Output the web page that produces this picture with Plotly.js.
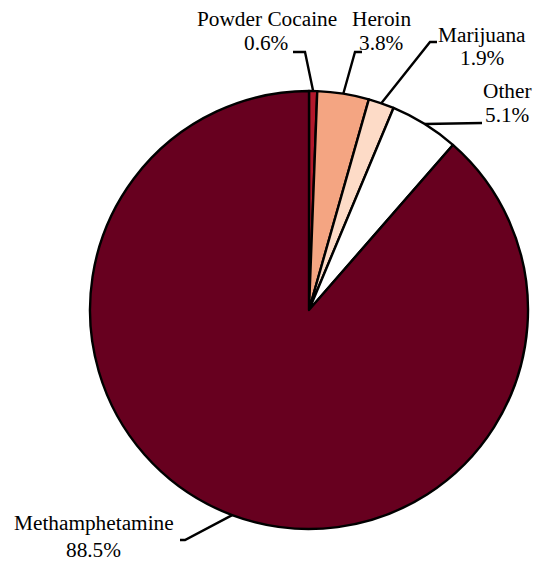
<!DOCTYPE html>
<html>
<head>
<meta charset="utf-8">
<script src="https://cdn.plot.ly/plotly-3.0.1.min.js"></script>
<style>html,body{margin:0;padding:0;background:#fff}#chart{width:534px;height:571px}</style>
</head>
<body>
<div id="chart"></div>
<script>
// ---- data ----
const categories = ['Powder Cocaine', 'Heroin', 'Marijuana', 'Other', 'Methamphetamine'];
const shares = [0.6, 3.8, 1.9, 5.1, 88.5];
const percentLabels = ['0.6%', '3.8%', '1.9%', '5.1%', '88.5%'];
const sliceColors = ['#b2182b', '#f4a582', '#fddbc7', '#ffffff', '#67001f'];

// ---- layout config (pixels) ----
const W = 534, H = 571;
const CX = 309, CY = 310, R = 219;
const FONT = 21.3;
const labelPlacement = [
  {elbow: [305, 52], end: [293, 52], x: 266.5, nameBase: 26, pctBase: 50},
  {elbow: [355, 52], end: [362, 52], x: 381, nameBase: 26, pctBase: 50},
  {elbow: [430, 42], end: [437, 42], x: 482, nameBase: 42, pctBase: 65},
  {elbow: [482, 123], end: [482, 123], x: 507, nameBase: 98, pctBase: 122},
  {elbow: [185, 540], end: [180, 540], x: 93.5, nameBase: 530, pctBase: 557}
];

const px = v => v / W;
const py = v => 1 - v / H;

const total = shares.reduce((a, b) => a + b, 0);
const shapes = [];
const annotations = [];
let cum = 0;
shares.forEach((v, i) => {
  const mid = (cum + v / 2) / total * 2 * Math.PI;
  cum += v;
  const ax = CX + R * Math.sin(mid);
  const ay = CY - R * Math.cos(mid);
  const p = labelPlacement[i];
  shapes.push({
    type: 'path', xref: 'paper', yref: 'paper',
    path: `M${px(ax)},${py(ay)} L${px(p.elbow[0])},${py(p.elbow[1])} L${px(p.end[0])},${py(p.end[1])}`,
    line: {color: '#000', width: 2.4}
  });
  const mk = (txt, base) => ({
    xref: 'paper', yref: 'paper', x: px(p.x), y: py(base - FONT * 0.33),
    xanchor: 'center', yanchor: 'middle', text: txt, showarrow: false,
    font: {family: 'Liberation Serif', size: FONT, color: '#000'}
  });
  annotations.push(mk(categories[i], p.nameBase));
  annotations.push(mk(percentLabels[i], p.pctBase));
});

const trace = {
  type: 'pie',
  labels: categories,
  values: shares,
  sort: false,
  direction: 'clockwise',
  rotation: 0,
  textinfo: 'none',
  hoverinfo: 'label+percent',
  marker: {colors: sliceColors, line: {color: '#000', width: 2.4}},
  domain: {x: [px(CX - R), px(CX + R)], y: [py(CY + R), py(CY - R)]},
  automargin: false
};

Plotly.newPlot('chart', [trace], {
  width: W, height: H,
  margin: {l: 0, r: 0, t: 0, b: 0},
  showlegend: false,
  paper_bgcolor: '#fff',
  font: {family: 'Liberation Serif'},
  shapes: shapes,
  annotations: annotations
}, {displayModeBar: false, staticPlot: true});
</script>
</body>
</html>
